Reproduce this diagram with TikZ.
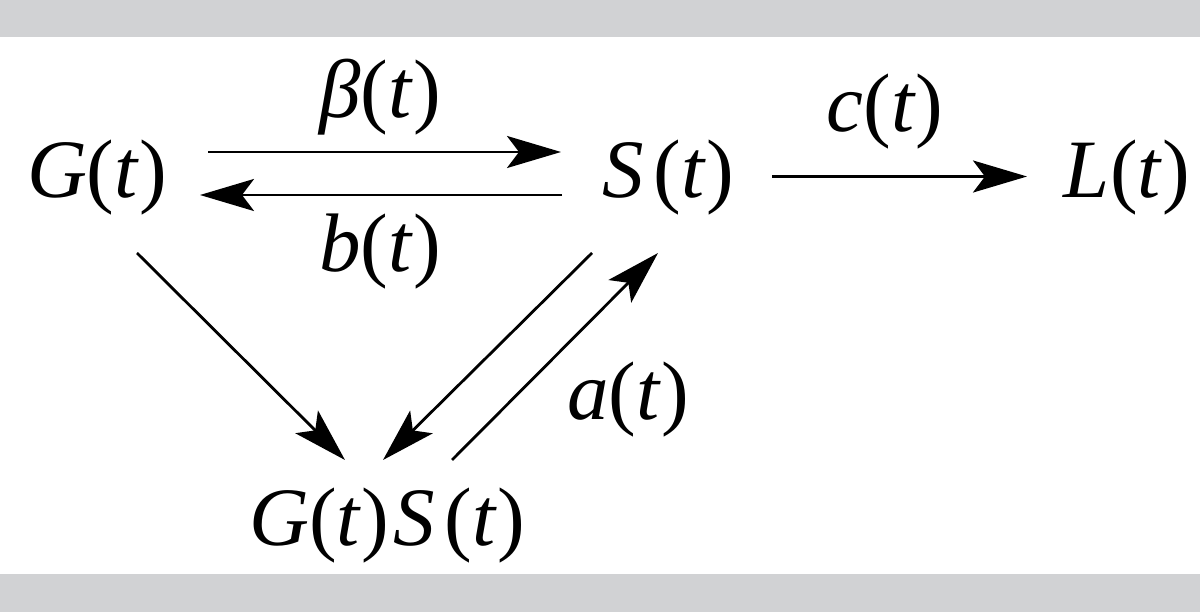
\documentclass[tikz,border=0pt]{standalone}
\usepackage{fontspec}
\setmainfont{Liberation Serif}
\usetikzlibrary{arrows.meta}
\definecolor{barg}{HTML}{D1D2D4}
\newcommand\vf[2]{\textit{#1}(\textit{#2})}
\newcommand\vsS{\textit{S}\kern0.12em(\textit{t})}
\begin{document}
\begin{tikzpicture}[x=1pt,y=-1pt,
  lbl/.style={inner sep=0pt, outer sep=0pt, text height=58pt, text depth=15pt,
              font=\fontsize{83}{100}\selectfont},
  arr/.style={line width=2.8pt, draw=black,
              -{Stealth[length=54pt,width=32pt,inset=12pt]}}]
\useasboundingbox (0,0) rectangle (1200,612);
\fill[white] (0,0) rectangle (1200,612);
\fill[barg] (0,0) rectangle (1200,37);
\fill[barg] (0,574) rectangle (1200,612);
% nodes
\node[lbl] (G) at (97,176.5) {\vf{G}{t}};
\node[lbl] (S) at (668,176.5) {\vsS};
\node[lbl] (L) at (1127,176.5) {\vf{L}{t}};
\node[lbl] (GS) at (387,523.5) {\vf{G}{t}\kern0.05em\vsS};
% labels
\node[lbl] (lbeta) at (380,96.5) {\vf{β}{t}};
\node[lbl] (lb) at (380,250.5) {\vf{b}{t}};
\node[lbl] (lc) at (885,110.5) {\vf{c}{t}};
\node[lbl] (la) at (628,398.5) {\vf{a}{t}};
% connectors
\draw[arr] ([shift={(111,-24.5)}]G.center) -- ([shift={(-107,-24.5)}]S.center);
\draw[arr] ([shift={(-106,18.5)}]S.center) -- ([shift={(103,18.5)}]G.center);
\draw[arr] ([shift={(104,0)}]S.center) -- ([shift={(-100,0)}]L.center);
\draw[arr] ([shift={(40,76.5)}]G.center) -- ([shift={(-42,-63.5)}]GS.center);
\draw[arr] ([shift={(-76,76.5)}]S.center) -- ([shift={(-4,-63.5)}]GS.center);
\draw[arr] ([shift={(65,-63.5)}]GS.center) -- ([shift={(-10,76.5)}]S.center);
\end{tikzpicture}
\end{document}
